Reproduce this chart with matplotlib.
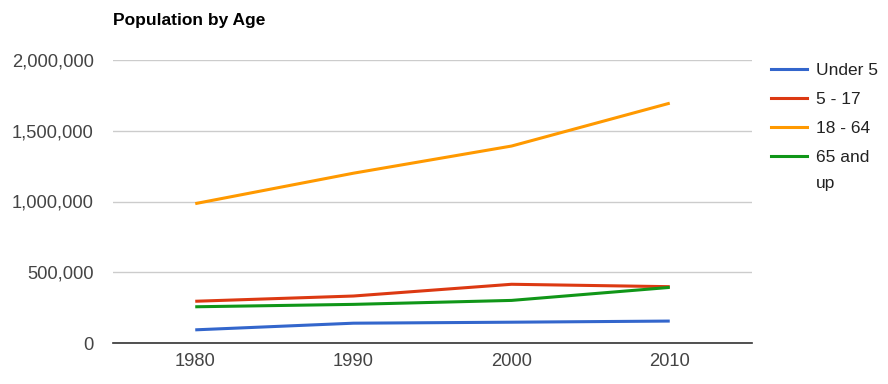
import matplotlib.pyplot as plt
from matplotlib.lines import Line2D
from matplotlib.ticker import FuncFormatter

plt.rcParams['font.family'] = ['Liberation Sans', 'DejaVu Sans']

years = ["1980", "1990", "2000", "2010"]
labels = ["Under 5", "5 - 17", "18 - 64", "65 and\nup"]
under5 = [93000, 140000, 147000, 155000]
age5_17 = [295000, 332000, 415000, 398000]
age18_64 = [985000, 1200000, 1392000, 1695000]
age65 = [256000, 273000, 301000, 393000]
colors = ["#3366cc", "#dc3912", "#ff9900", "#109618"]

W, H = 888, 384
fig = plt.figure(figsize=(W/100, H/100), dpi=100)
ax = fig.add_axes([113/W, 41/H, 639/W, 283/H])

x = range(len(years))
for vals, lab, c in zip([under5, age5_17, age18_64, age65], labels, colors):
    ax.plot(x, vals, color=c, lw=2.2, label=lab, solid_capstyle="butt")

ax.set_xlim(-0.52, 3.52)
ax.set_ylim(0, 2000000)
ax.set_yticks([0, 500000, 1000000, 1500000, 2000000])
ax.yaxis.set_major_formatter(FuncFormatter(lambda v, p: f"{int(v):,}"))
ax.set_xticks(list(x))
ax.set_xticklabels(years)
ax.grid(axis="y", color="#cccccc", lw=1)
ax.set_axisbelow(True)
for s in ["top", "right", "left"]:
    ax.spines[s].set_visible(False)
ax.spines["bottom"].set_color("#333333")
ax.spines["bottom"].set_linewidth(1.2)
ax.tick_params(length=0, labelsize=13.2, colors="#444444")
ax.tick_params(axis="y", pad=14)
ax.tick_params(axis="x", pad=7)

fig.text(113/W, 1 - 20/H, "Population by Age", fontsize=12.5, fontweight="bold",
         va="center", ha="left", color="#000000")

# legend, drawn by hand so the wrapped label gets the same spacing as the reference
y = 69
for lab, c in zip(labels, colors):
    fig.add_artist(Line2D([771/W, 807/W], [1 - y/H, 1 - y/H], color=c, lw=2.2,
                          transform=fig.transFigure))
    fig.text(816/W, 1 - (y - 6)/H, lab, fontsize=12.5, color="#222222",
             va="top", ha="left", linespacing=1.95)
    y += 29

fig.savefig("out.png", dpi=100)
